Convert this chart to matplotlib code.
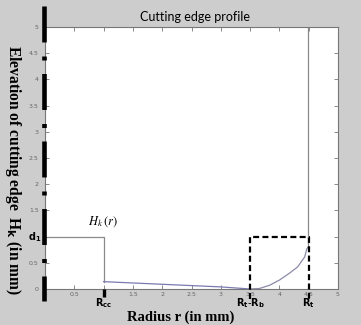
import matplotlib
matplotlib.use("Agg")
import matplotlib.pyplot as plt
from matplotlib.lines import Line2D

plt.rcParams['lines.scale_dashes'] = False

# Data
flat_r = [0.0, 1.0, 1.0]
flat_h = [1.0, 1.0, 0.14]
slope_r = [1.0, 2.0, 3.0, 3.5]
slope_h = [0.14, 0.09, 0.04, 0.0]
curve_r = [3.5, 3.66, 3.83, 4.0, 4.17, 4.31, 4.43, 4.47, 4.49]
curve_h = [0.0, 0.01, 0.07, 0.17, 0.30, 0.42, 0.61, 0.77, 0.80]
wall_r = [4.49, 4.49]
wall_h = [0.80, 5.0]
box_r = [3.5, 3.5, 4.5, 4.5]
box_h = [-0.2, 1.0, 1.0, -0.2]
rcc_mark_r = [1.0, 1.0]
rcc_mark_h = [0.0, -0.15]
ticks = [0, 0.5, 1, 1.5, 2, 2.5, 3, 3.5, 4, 4.5, 5]
x_tick_labels = ["0", "0.5", "", "1.5", "2", "2.5", "3", "3.5", "4", "4.5", "5"]
y_tick_labels = ["0", "0.5", "", "1.5", "2", "2.5", "3", "3.5", "4", "4.5", "5"]
r_marks = [1.0, 3.5, 4.5]
r_mark_labels = [r"$\mathbf{R_{cc}}$", r"$\mathbf{R_t\text{-}R_b}$", r"$\mathbf{R_t}$"]

W, H = 361, 325
fig = plt.figure(figsize=(W / 100, H / 100), dpi=100, facecolor='#cdcdcd')
ax = fig.add_axes([45 / W, 1 - 289 / H, (338 - 45) / W, (289 - 27) / H])
ax.set_facecolor('white')
ax.set_xlim(0, 5)
ax.set_ylim(0, 5)

ax.plot(flat_r, flat_h, color='#8a8a8a', lw=0.9)
ax.plot(slope_r, slope_h, color='#7a7ab0', lw=0.9)
ax.plot(curve_r, curve_h, color='#8a8aa8', lw=0.9)
ax.plot(wall_r, wall_h, color='#8a8a8a', lw=0.9)
ax.plot(box_r, box_h, color='black', lw=1.6, linestyle=(0, (4.3, 2.4)),
        clip_on=False, zorder=5)
ax.plot(rcc_mark_r, rcc_mark_h, color='black', lw=2.4, clip_on=False,
        zorder=5, solid_capstyle='butt')

ax.set_xticks(ticks)
ax.set_xticklabels(x_tick_labels)
ax.set_yticks(ticks)
ax.set_yticklabels(y_tick_labels)
ax.tick_params(direction='in', length=3, width=0.6, color='#777777',
               labelsize=4.5, labelcolor='#666666', top=True, right=True, pad=2)
ax.tick_params(axis='y', pad=4.5)
for s in ax.spines.values():
    s.set_color('#777777')
    s.set_linewidth(0.8)

for r, lab in zip(r_marks, r_mark_labels):
    ax.text(r, -0.27, lab, ha='center', va='center', fontsize=7,
            family='Liberation Sans', clip_on=False)
ax.text(-0.17, 1.0, r"$\mathbf{d_1}$", ha='center', va='center', fontsize=7,
        family='Liberation Sans', clip_on=False, zorder=6)
ax.text(0.99, 1.28, r"$H_k\,(r)$", ha='center', va='center', fontsize=9,
        math_fontfamily='stix')

fig.text(195 / W, 1 - 17 / H, "Cutting edge profile", ha='center', va='center',
         fontsize=9, family='Lato')
fig.text(181 / W, 1 - 317 / H, "Radius r (in mm)", ha='center', va='center',
         fontsize=10.5, family='Liberation Serif', weight='bold')
fig.text(13 / W, 1 - 170 / H, r"Elevation of cutting edge  H$_\mathbf{k}$ (in mm)",
         ha='center', va='center', rotation=270, fontsize=11.2,
         family='Liberation Serif', weight='bold')

bar = Line2D([43.5 / W, 43.5 / W], [1 - 6 / H, 1 - 301 / H],
             transform=fig.transFigure, color='black', lw=3.3,
             linestyle=(0, (25.9, 10.1, 2.9, 9.7)), solid_capstyle='butt',
             dash_capstyle='butt', zorder=10)
fig.add_artist(bar)

fig.savefig("out.png", dpi=100, facecolor=fig.get_facecolor())
